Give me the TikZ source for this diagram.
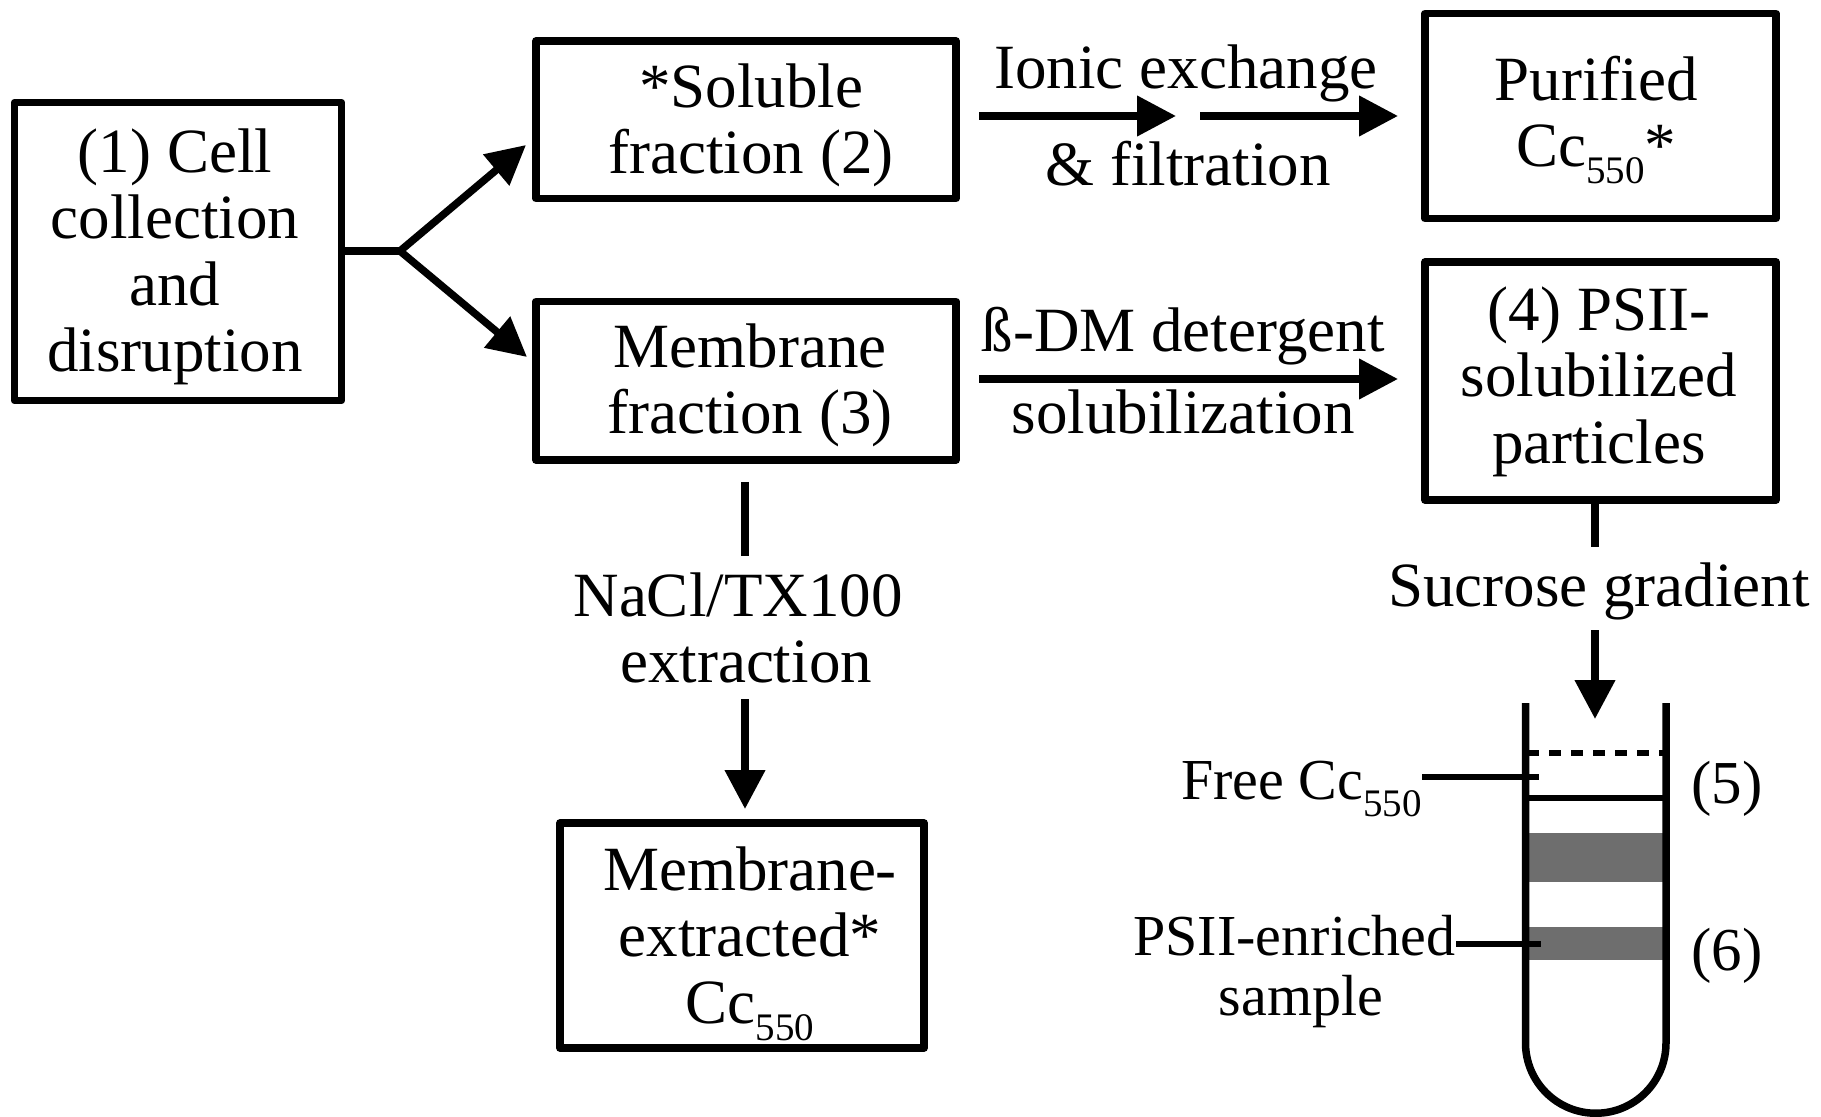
\documentclass[tikz,border=0pt]{standalone}
\usepackage{fontspec}
\setmainfont{Liberation Serif}
\usetikzlibrary{arrows.meta}
\definecolor{band}{RGB}{110,110,110}
\newcommand\mainfs{\fontsize{31.5pt}{33.25pt}\selectfont}
\newcommand\smallfs{\fontsize{29pt}{31pt}\selectfont}
\newcommand\numfs{\fontsize{30.5pt}{32pt}\selectfont}
\newcommand\lowsub[1]{\raisebox{-8.5pt}{\fontsize{19.5pt}{20pt}\selectfont #1}}
\newcommand\topstrut{\rule{0pt}{23pt}}
\tikzset{
  box/.style={draw, line width=3.75pt, line join=round, inner sep=0pt},
  txt/.style={align=center, inner sep=0pt, font=\mainfs},
  lab/.style={align=center, inner sep=0pt, font=\smallfs},
  arr/.style={line width=3.75pt, -{Triangle[length=19.5pt,width=19.5pt]}},
  ln/.style={line width=3.75pt},
  thin/.style={line width=3pt},
}
\begin{document}
\begin{tikzpicture}[x=0.5pt,y=-0.5pt]
\useasboundingbox (0,0) rectangle (1821,1117);
% boxes
\node[box, minimum width=163.5pt, minimum height=149pt] (b1) at (178,251.5) {};
\node[txt, anchor=north] (b1t) at (175,126) {\topstrut(1) Cell\\collection\\and\\disruption};
\node[box, minimum width=210pt, minimum height=78.75pt] (sol) at (746,119.75) {};
\node[txt, anchor=north] (solt) at (751,61) {\topstrut*Soluble\\fraction (2)};
\node[box, minimum width=210pt, minimum height=79.25pt] (mem) at (746,380.75) {};
\node[txt, anchor=north] (memt) at (750,321) {\topstrut Membrane\\fraction (3)};
\node[box, minimum width=175.5pt, minimum height=102.5pt] (pur) at (1600.5,116) {};
\node[txt, anchor=north] (purt) at (1596,54) {\topstrut Purified\\Cc\lowsub{550}*};
\node[box, minimum width=175.5pt, minimum height=119pt] (psii) at (1600.5,381) {};
\node[txt, anchor=north] (psiit) at (1599,284) {\topstrut(4) PSII-\\solubilized\\particles};
\node[box, minimum width=182pt, minimum height=112.5pt] (mex) at (742,935.5) {};
\node[txt, anchor=north] (mext) at (750,844) {\topstrut Membrane-\\extracted*\\Cc\lowsub{550}};
% fork
\coordinate (fork) at (400,251);
\coordinate (t1) at (526,145);
\coordinate (t2) at (527,357);
\draw[ln] (b1.east |- fork) -- (fork);
\draw[arr] (fork) -- (t1);
\draw[arr] (fork) -- (t2);
% ionic exchange arrows
\coordinate (i1s) at (979,116);
\coordinate (i1e) at (1176,116);
\coordinate (i2s) at (1200,116);
\coordinate (i2e) at (1398,116);
\draw[arr] (i1s) -- (i1e);
\draw[arr] (i2s) -- (i2e);
\node[txt, anchor=base] (ionic) at (1186,89) {Ionic exchange};
\node[txt, anchor=base] (filt) at (1188,186) {\& filtration};
% detergent arrow
\coordinate (ds) at (979,379);
\coordinate (de) at (1398,379);
\draw[arr] (ds) -- (de);
\node[txt, anchor=base] (det) at (1183,352) {ß-DM detergent};
\node[txt, anchor=base] (solu) at (1183,434) {solubilization};
% membrane down
\coordinate (m1) at (745,482);
\coordinate (m2) at (745,556);
\coordinate (m3) at (745,699);
\coordinate (m4) at (745,809);
\draw[ln] (m1) -- (m2);
\draw[arr] (m3) -- (m4);
\node[txt, anchor=base] (nacl) at (738,616) {NaCl/TX100};
\node[txt, anchor=base] (extr) at (746,682) {extraction};
% psii down
\coordinate (p1) at (1595,500);
\coordinate (p2) at (1595,547);
\coordinate (p3) at (1595,630);
\coordinate (p4) at (1595,719);
\draw[ln] (p1) -- (p2);
\draw[arr] (p3) -- (p4);
\node[txt, anchor=base] (sucr) at (1599,606) {Sucrose gradient};
% tube
\fill[band] (1527,833) rectangle (1664,882);
\fill[band] (1527,927) rectangle (1664,960);
\draw[thin, dash pattern=on 6pt off 5pt] (1527,753) -- (1666,753);
\draw[thin] (1525,798) -- (1666,798);
\draw[ln] (1525.5,703) -- (1525.5,1043) arc[start angle=180, end angle=0, radius=70.25] -- (1666,703);
% labels
\node[lab, anchor=base east] (free) at (1422,799) {Free Cc\lowsub{550}};
\draw[thin] (free.east |- 0,777) -- (1539,777);
\node[txt, font=\numfs, anchor=base] (five) at (1727,803) {(5)};
\node[lab, anchor=base east] (enr) at (1456,955) {PSII-enriched};
\node[lab, anchor=base] (samp) at (1301,1015) {sample};
\draw[thin] (enr.east |- 0,944) -- (1541,944);
\node[txt, font=\numfs, anchor=base] (six) at (1727,970) {(6)};
\end{tikzpicture}
\end{document}
